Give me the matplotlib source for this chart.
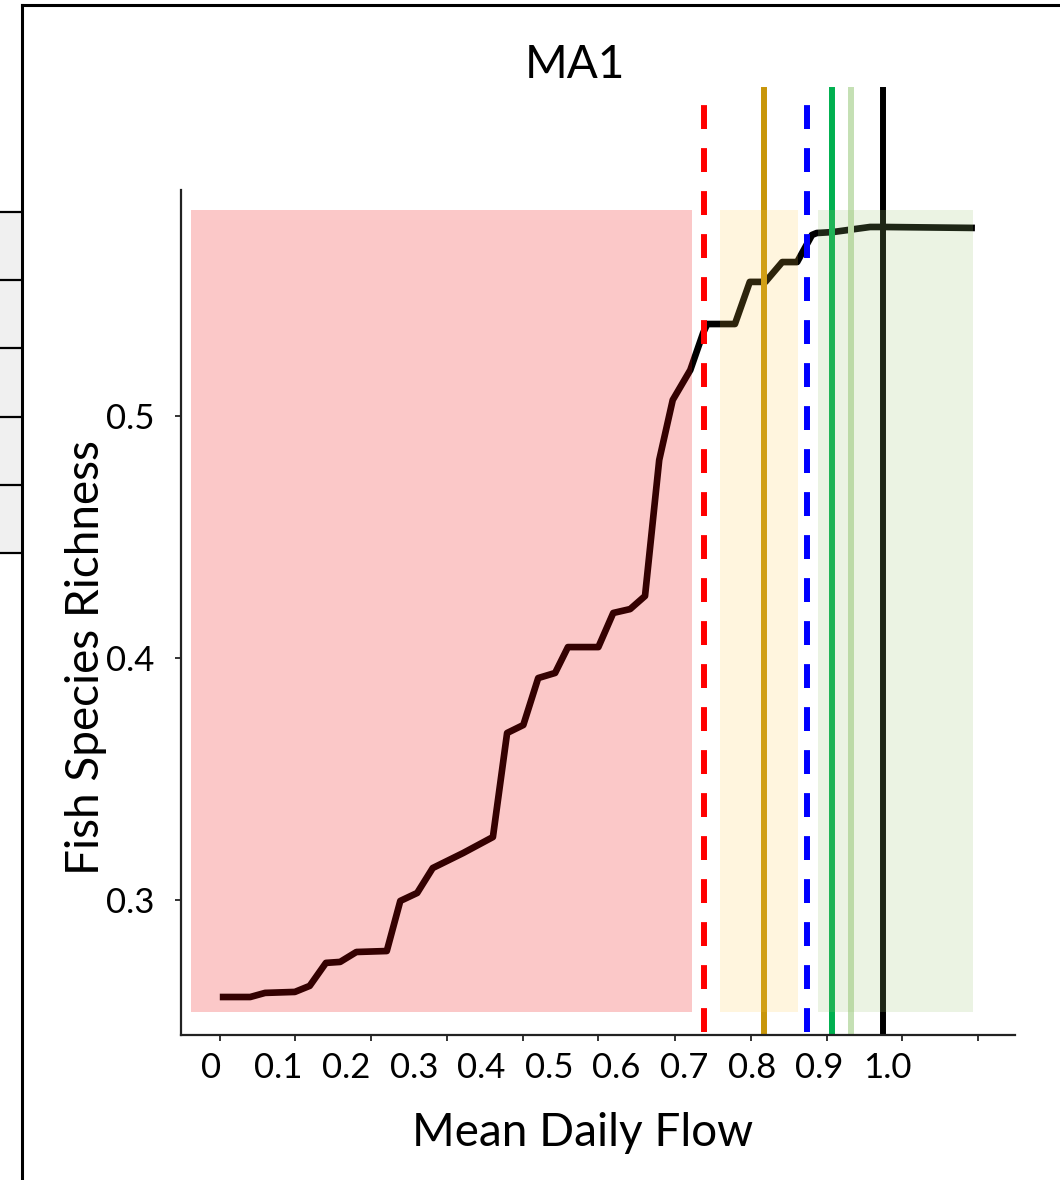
import matplotlib.pyplot as plt
from matplotlib.lines import Line2D
from matplotlib.patches import Rectangle

plt.rcParams['font.family'] = ['Lato', 'DejaVu Sans']

# response curve
flow = [0.013, 0.058, 0.080, 0.124, 0.146, 0.170, 0.191, 0.215, 0.260, 0.280,
        0.305, 0.328, 0.373, 0.417, 0.438, 0.462, 0.484, 0.509, 0.528, 0.573,
        0.595, 0.620, 0.642, 0.663, 0.683, 0.709, 0.728, 0.734, 0.775, 0.797,
        0.820, 0.845, 0.867, 0.889, 0.896, 0.920, 0.975, 0.994, 1.130]
richness = [0.2599, 0.2599, 0.2616, 0.2620, 0.2645, 0.2740, 0.2744, 0.2785, 0.2789, 0.2996,
            0.3029, 0.3132, 0.3194, 0.3260, 0.3690, 0.3723, 0.3917, 0.3938, 0.4045, 0.4045,
            0.4186, 0.4202, 0.4256, 0.4818, 0.5066, 0.5190, 0.5343, 0.5380, 0.5380, 0.5554,
            0.5554, 0.5636, 0.5636, 0.5748, 0.5756, 0.5760, 0.5781, 0.5781, 0.5777]

# threshold markers
thresholds = [0.729, 0.818, 0.882, 0.919, 0.947, 0.994]
thr_colors = ['#ff0000', '#c8960a', '#0000ff', '#00b050', '#c5e0b4', '#000000']
thr_dashed = [True, False, True, False, False, False]

# shaded zones
zone_start = [-0.030, 0.753, 0.898]
zone_end = [0.7115, 0.868, 1.127]
zone_low, zone_high = 0.2537, 0.5851
zone_colors = ['#f00505', '#ffc848', '#9bc373']
zone_alpha = [0.22, 0.18, 0.20]

# axis ticks
axis_ticks = [0.013, 0.124, 0.237, 0.349, 0.462, 0.572, 0.686, 0.799, 0.911, 1.022, 1.135]
flow_labels = ['0', '0.1', '0.2', '0.3', '0.4', '0.5', '0.6', '0.7', '0.8', '0.9', '1.0']
flow_label_pos = [0.0, 0.1, 0.2, 0.3, 0.4, 0.5, 0.6, 0.7, 0.8, 0.9, 1.0]
rich_ticks = [0.3, 0.4, 0.5]

W, H = 1060, 1180
fig = plt.figure(figsize=(W / 100, H / 100), dpi=100)
ax = fig.add_axes([181 / W, 1 - 1035 / H, (1015 - 181) / W, (1035 - 90) / H])
ax.set_xlim(-0.0444, 1.1893)
ax.set_ylim(0.2442, 0.6347)

ax.plot(flow, richness, color='black', lw=4.8, zorder=1, solid_capstyle='butt')

for x, c, d in zip(thresholds, thr_colors, thr_dashed):
    ln, = ax.plot([x, x], [0.2455, 0.6347], color=c, lw=4.3, zorder=2, clip_on=False)
    if d:
        ln.set_dashes((4, 3.2))

for x0, x1, c, a in zip(zone_start, zone_end, zone_colors, zone_alpha):
    ax.add_patch(Rectangle((x0, zone_low), x1 - x0, zone_high - zone_low,
                           facecolor=c, alpha=a, edgecolor='none', zorder=3))

for s in ['top', 'right']:
    ax.spines[s].set_visible(False)
for s in ['left', 'bottom']:
    ax.spines[s].set_linewidth(1.6)
    ax.spines[s].set_color('#222222')
ax.spines['left'].set_bounds(0.2442, 0.5934)

ax.set_xticks(axis_ticks)
ax.set_xticklabels([])
ax.set_xticks(flow_label_pos, minor=True)
ax.set_xticklabels(flow_labels, minor=True)
ax.tick_params(axis='x', which='major', length=4, width=1.4, color='#333333')
ax.tick_params(axis='x', which='minor', length=0, pad=12, labelsize=25)

ax.set_yticks(rich_ticks)
ax.set_yticklabels(['0.3', '0.4', '0.5'])
ax.tick_params(axis='y', length=4, width=1.4, color='#333333', pad=15, labelsize=25)

ax.set_xlabel('Mean Daily Flow', fontsize=33)
ax.xaxis.set_label_coords((583 - 181) / (1015 - 181), (1035 - 1133) / (1035 - 90))
ax.xaxis.label.set_va('center')
ax.set_ylabel('Fish Species Richness', fontsize=33)
ax.yaxis.set_label_coords((86 - 181) / (1015 - 181), (1035 - 658) / (1035 - 90))
ax.yaxis.label.set_va('center')

fig.text(575 / W, 1 - 65 / H, 'MA1', fontsize=33, ha='center', va='center')

# page frame and the edge of the neighbouring table
fig.add_artist(Line2D([22 / W, 22 / W], [0, 1 - 5 / H], color='black', lw=2.2))
fig.add_artist(Line2D([22 / W, 1], [1 - 5 / H, 1 - 5 / H], color='black', lw=2.2))
fig.add_artist(Rectangle((0, 1 - 553 / H), 22 / W, (553 - 212) / H,
                         facecolor='#f0f0f0', edgecolor='none'))
for yy in [212, 280, 348, 417, 485, 553]:
    fig.add_artist(Line2D([0, 22 / W], [1 - yy / H, 1 - yy / H], color='black', lw=1.6))

fig.savefig('out.png', dpi=100)
